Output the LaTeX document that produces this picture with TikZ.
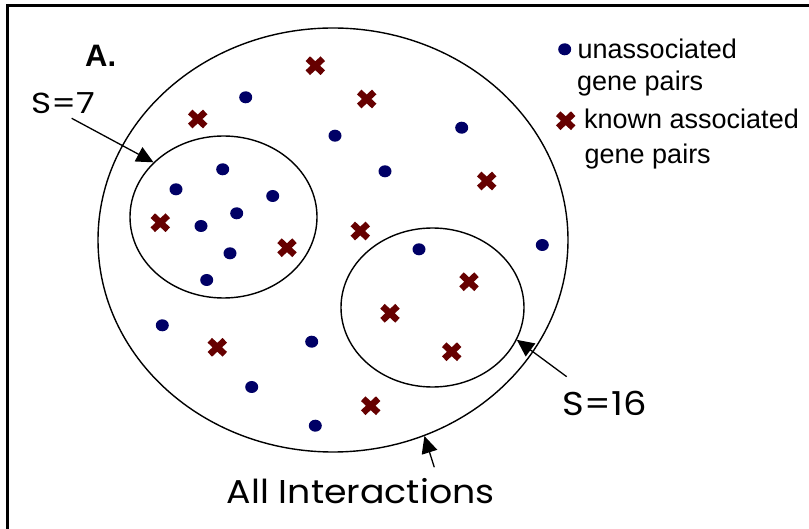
\documentclass[tikz,border=0pt]{standalone}
\usepackage{fontspec}
\setmainfont{Liberation Sans}
\newfontfamily\geofont{Poppins}
\usetikzlibrary{shapes.geometric,arrows.meta}
\definecolor{dotblue}{RGB}{0,0,102}
\definecolor{crossred}{RGB}{102,0,0}
\begin{document}
\begin{tikzpicture}[x=1pt,y=-1pt,
  gdot/.style={ellipse,fill=dotblue,minimum width=13pt,minimum height=12pt,inner sep=0pt},
  setring/.style={ellipse,draw,line width=1.4pt,inner sep=0pt},
  legtext/.style={anchor=base west,inner sep=0pt,font=\fontsize{27}{27}\selectfont},
  geotext/.style={anchor=base west,inner sep=0pt},
  pointer/.style={line width=1.3pt,-{Triangle[length=17pt,width=16pt]}},
  xmark/.pic={\draw[crossred,line width=6.5pt] (-7.5,-7) -- (7.5,7) (-7.5,7) -- (7.5,-7);}]
\useasboundingbox (0,0) rectangle (809,529);
\fill[white] (0,0) rectangle (809,529);
% frame (top and left only)
\draw[line width=3pt] (7.5,529) -- (7.5,6) -- (809,6);
% sets
\node[setring,minimum width=470pt,minimum height=424pt] (all) at (333,240) {};
\node[setring,minimum width=187pt,minimum height=162pt] (c7) at (223.5,217) {};
\node[setring,minimum width=183pt,minimum height=159pt] (c16) at (432.5,307.5) {};
% blue dots
\foreach \px/\py [count=\i] in {245.7/97.3, 335/135.7, 385/171.3, 461.7/127.7, 542.3/245, 419/249.3,
  222.7/169.3, 176/189.3, 272.7/196, 236.7/213.3, 201/226, 230/253.3, 206.7/280,
  162.3/325.3, 311.7/341.7, 251.7/387, 315.3/425.7}
  \node[gdot] (d\i) at (\px,\py) {};
% red crosses
\foreach \px/\py [count=\i] in {315.3/65.7, 366.7/99, 197.7/119, 160.3/222.7, 287/247.7, 360.3/231,
  486.7/181, 217.3/347.3, 370.7/405.7, 390/313.3, 469/281.7, 451.7/351.7}
  \pic (x\i) at (\px,\py) {xmark};
% legend
\node[gdot] (legdot) at (564.7,49.3) {};
\pic (legx) at (565.7,120.7) {xmark};
\node[legtext] (leg1a) at (577.5,58.3) {unassociated};
\node[legtext] (leg1b) at (577,90.7) {gene pairs};
\node[legtext] (leg2a) at (584,128.3) {known associated};
\node[legtext] (leg2b) at (584.5,163.3) {gene pairs};
% labels
\node[anchor=base west,inner sep=0pt,font=\bfseries\fontsize{31}{31}\selectfont] (lblA) at (85,66.7) {A.};
\node[geotext,font=\geofont\fontsize{29}{29}\selectfont,xscale=1.18] (s7) at (31,113.3) {S=7};
\node[geotext,font=\geofont\fontsize{33}{33}\selectfont,xscale=1.12] (s16) at (562.7,416) {S=16};
\node[geotext,font=\geofont\fontsize{33}{33}\selectfont,xscale=1.1] (allint) at (226.7,503) {All Interactions};
% pointers
\coordinate (s7start) at (71.7,118.3);
\coordinate (s16start) at (566.7,376.7);
\coordinate (allstart) at (434.3,467.3);
\draw[pointer] (s7start) -- (c7.142.6);
\draw[pointer] (s16start) -- (c16.-21.7);
\draw[pointer] (allstart) -- (all.-65.9);
\end{tikzpicture}
\end{document}
